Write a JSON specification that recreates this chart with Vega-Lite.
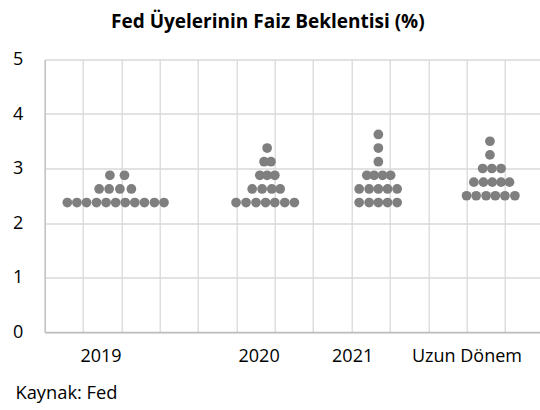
{
  "$schema": "https://vega.github.io/schema/vega-lite/v6.json",
  "usermeta": {"embedOptions": {"actions": false}},
  "autosize": {"type": "none"},
  "padding": {"left": 44.7, "top": 59.5, "right": 0, "bottom": 78},
  "width": 495.3,
  "height": 272.5,
  "background": "white",
  "config": {
    "font": "Open Sans",
    "view": {"stroke": null},
    "axis": {"labelFont": "Open Sans", "titleFont": "Open Sans"}
  },
  "title": {
    "text": "Fed Üyelerinin Faiz Beklentisi (%)",
    "font": "Open Sans",
    "fontWeight": "bold",
    "fontSize": 19,
    "color": "#000000",
    "anchor": "middle",
    "dx": -24.5,
    "offset": 19
  },
  "datasets": {
    "dots": [
      {"g": "2019", "x": 0.59, "y": 2.375}, {"g": "2019", "x": 0.84, "y": 2.375}, {"g": "2019", "x": 1.09, "y": 2.375}, {"g": "2019", "x": 1.35, "y": 2.375}, {"g": "2019", "x": 1.60, "y": 2.375}, {"g": "2019", "x": 1.85, "y": 2.375}, {"g": "2019", "x": 2.10, "y": 2.375}, {"g": "2019", "x": 2.35, "y": 2.375}, {"g": "2019", "x": 2.60, "y": 2.375}, {"g": "2019", "x": 2.86, "y": 2.375}, {"g": "2019", "x": 3.11, "y": 2.375},
      {"g": "2019", "x": 1.42, "y": 2.625}, {"g": "2019", "x": 1.68, "y": 2.625}, {"g": "2019", "x": 1.96, "y": 2.625}, {"g": "2019", "x": 2.26, "y": 2.625},
      {"g": "2019", "x": 1.70, "y": 2.875}, {"g": "2019", "x": 2.08, "y": 2.875},
      {"g": "2020", "x": 4.99, "y": 2.375}, {"g": "2020", "x": 5.25, "y": 2.375}, {"g": "2020", "x": 5.51, "y": 2.375}, {"g": "2020", "x": 5.76, "y": 2.375}, {"g": "2020", "x": 6.00, "y": 2.375}, {"g": "2020", "x": 6.26, "y": 2.375}, {"g": "2020", "x": 6.51, "y": 2.375},
      {"g": "2020", "x": 5.41, "y": 2.625}, {"g": "2020", "x": 5.67, "y": 2.625}, {"g": "2020", "x": 5.92, "y": 2.625}, {"g": "2020", "x": 6.14, "y": 2.625},
      {"g": "2020", "x": 5.61, "y": 2.875}, {"g": "2020", "x": 5.80, "y": 2.875}, {"g": "2020", "x": 6.00, "y": 2.875},
      {"g": "2020", "x": 5.72, "y": 3.125}, {"g": "2020", "x": 5.90, "y": 3.125},
      {"g": "2020", "x": 5.80, "y": 3.375},
      {"g": "2021", "x": 8.20, "y": 2.375}, {"g": "2021", "x": 8.46, "y": 2.375}, {"g": "2021", "x": 8.70, "y": 2.375}, {"g": "2021", "x": 8.94, "y": 2.375}, {"g": "2021", "x": 9.19, "y": 2.375},
      {"g": "2021", "x": 8.20, "y": 2.625}, {"g": "2021", "x": 8.46, "y": 2.625}, {"g": "2021", "x": 8.70, "y": 2.625}, {"g": "2021", "x": 8.94, "y": 2.625}, {"g": "2021", "x": 9.19, "y": 2.625},
      {"g": "2021", "x": 8.40, "y": 2.875}, {"g": "2021", "x": 8.59, "y": 2.875}, {"g": "2021", "x": 8.81, "y": 2.875}, {"g": "2021", "x": 9.02, "y": 2.875},
      {"g": "2021", "x": 8.70, "y": 3.125}, {"g": "2021", "x": 8.70, "y": 3.375}, {"g": "2021", "x": 8.70, "y": 3.625},
      {"g": "Uzun Dönem", "x": 11.00, "y": 2.5}, {"g": "Uzun Dönem", "x": 11.25, "y": 2.5}, {"g": "Uzun Dönem", "x": 11.51, "y": 2.5}, {"g": "Uzun Dönem", "x": 11.75, "y": 2.5}, {"g": "Uzun Dönem", "x": 12.00, "y": 2.5}, {"g": "Uzun Dönem", "x": 12.26, "y": 2.5},
      {"g": "Uzun Dönem", "x": 11.19, "y": 2.75}, {"g": "Uzun Dönem", "x": 11.44, "y": 2.75}, {"g": "Uzun Dönem", "x": 11.67, "y": 2.75}, {"g": "Uzun Dönem", "x": 11.90, "y": 2.75}, {"g": "Uzun Dönem", "x": 12.12, "y": 2.75},
      {"g": "Uzun Dönem", "x": 11.42, "y": 3.0}, {"g": "Uzun Dönem", "x": 11.66, "y": 3.0}, {"g": "Uzun Dönem", "x": 11.90, "y": 3.0},
      {"g": "Uzun Dönem", "x": 11.61, "y": 3.25}, {"g": "Uzun Dönem", "x": 11.61, "y": 3.5}
    ],
    "labels": [
      {"label": "2019", "x": 1.47},
      {"label": "2020", "x": 5.59},
      {"label": "2021", "x": 8.03},
      {"label": "Uzun Dönem", "x": 11.01}
    ]
  },
  "layer": [
    {
      "data": {"name": "dots"},
      "mark": {"type": "point", "shape": "circle", "filled": true, "size": 95, "color": "#7f7f7f", "opacity": 1},
      "encoding": {
        "x": {
          "field": "x", "type": "quantitative",
          "scale": {"domain": [0, 12.915], "nice": false, "zero": false},
          "axis": {
            "values": [0, 1, 2, 3, 4, 5, 6, 7, 8, 9, 10, 11, 12],
            "grid": true, "gridColor": "#d9d9d9", "gridWidth": 1.3,
            "labels": false, "ticks": false,
            "domain": true, "domainColor": "#bfbfbf", "domainWidth": 1.3,
            "title": "Kaynak: Fed", "titleFont": "Open Sans", "titleFontSize": 18.3, "titleFontWeight": "normal", "titleColor": "#000000",
            "titleAnchor": "start", "titleAlign": "left", "titleBaseline": "middle", "titleX": -29.7, "titleY": 61
          }
        },
        "y": {
          "field": "y", "type": "quantitative",
          "scale": {"domain": [0, 5], "nice": false},
          "axis": {
            "values": [0, 1, 2, 3, 4, 5],
            "grid": true, "gridColor": "#d9d9d9", "gridWidth": 1.3,
            "ticks": false, "domain": true, "domainColor": "#bfbfbf", "domainWidth": 1.3,
            "labelFontSize": 18, "labelColor": "#000000", "labelPadding": 22, "labelFont": "Open Sans",
            "title": null
          }
        }
      }
    },
    {
      "data": {"name": "labels"},
      "mark": {"type": "text", "fontSize": 18, "font": "Open Sans", "color": "#000000", "baseline": "middle", "align": "center"},
      "encoding": {
        "x": {"field": "x", "type": "quantitative"},
        "y": {"datum": -0.459},
        "text": {"field": "label"}
      }
    }
  ]
}
